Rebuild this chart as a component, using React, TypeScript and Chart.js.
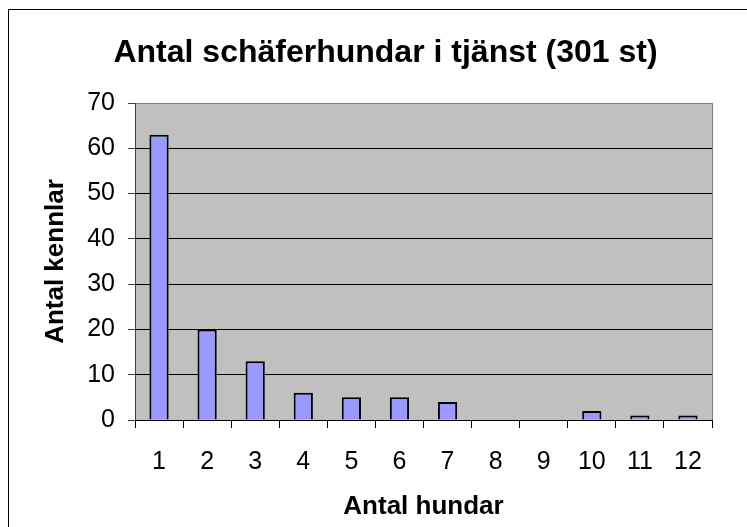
import React, { useEffect, useRef } from "react";
import { Chart, registerables } from "chart.js";

Chart.register(...registerables);

const categories = ["1", "2", "3", "4", "5", "6", "7", "8", "9", "10", "11", "12"];
const kennelCounts = [63, 20, 13, 6, 5, 5, 4, 0, 0, 2, 1, 1];
const chartTitle = "Antal schäferhundar i tjänst (301 st)";
const xTitle = "Antal hundar";
const yTitle = "Antal kennlar";
const yMin = 0;
const yMax = 70;
const yStep = 10;

const FONT = "Arial, 'Liberation Sans', sans-serif";

const decor = {
  id: "decor",
  beforeDraw(chart: any) {
    const { ctx, chartArea } = chart;
    ctx.save();
    ctx.fillStyle = "#ffffff";
    ctx.fillRect(0, 0, chart.width, chart.height);
    ctx.fillStyle = "#C0C0C0";
    ctx.fillRect(chartArea.left, chartArea.top, chartArea.right - chartArea.left, chartArea.bottom - chartArea.top);
    ctx.restore();
  },
  afterDraw(chart: any) {
    const { ctx, chartArea } = chart;
    ctx.save();
    ctx.strokeStyle = "#808080";
    ctx.lineWidth = 1;
    ctx.beginPath();
    ctx.moveTo(Math.round(chartArea.right) + 0.5, chartArea.top);
    ctx.lineTo(Math.round(chartArea.right) + 0.5, chartArea.bottom);
    ctx.stroke();
    ctx.strokeStyle = "#000000";
    ctx.strokeRect(8.5, 9.5, 900, 900);
    ctx.restore();
  },
};

export default function App() {
  const ref = useRef<HTMLCanvasElement | null>(null);
  useEffect(() => {
    if (!ref.current) return;
    const chart = new Chart(ref.current, {
      type: "bar",
      data: {
        labels: categories,
        datasets: [
          {
            data: kennelCounts,
            backgroundColor: "#9999FF",
            borderColor: "#000000",
            borderWidth: 2,
            barPercentage: 0.4,
            categoryPercentage: 1,
          },
        ],
      },
      options: {
        animation: false,
        responsive: false,
        devicePixelRatio: 1,
        layout: { padding: { left: 59, right: 35, top: 9, bottom: 0 } },
        plugins: {
          legend: { display: false },
          tooltip: { enabled: false },
          title: {
            display: true,
            text: chartTitle,
            color: "#000",
            font: { family: FONT, size: 32, weight: "bold" },
            padding: { top: 24.8, bottom: 30.8 },
          },
        },
        scales: {
          x: {
            afterFit: (s: any) => {
              s.height = 107;
            },
            grid: {
              offset: true,
              drawOnChartArea: false,
              drawTicks: true,
              tickLength: 8,
              color: "#000",
            },
            border: { display: true, color: "#000" },
            ticks: {
              color: "#000",
              padding: 19,
              font: { family: FONT, size: 25 },
              maxRotation: 0,
            },
            title: {
              display: true,
              text: xTitle,
              color: "#000",
              font: { family: FONT, size: 26, weight: "bold" },
              padding: { top: 0, bottom: 4.4 },
            },
          },
          y: {
            min: yMin,
            max: yMax,
            afterFit: (s: any) => {
              s.width = 76;
            },
            grid: {
              color: (c: any) => (c.tick && c.tick.value === yMax ? "#808080" : "#000"),
              tickColor: "#404040",
              drawTicks: true,
              tickLength: 7,
            },
            border: { display: true, color: "#404040" },
            ticks: {
              stepSize: yStep,
              color: "#000",
              padding: 13,
              font: { family: FONT, size: 25 },
            },
            title: {
              display: true,
              text: yTitle,
              color: "#000",
              font: { family: FONT, size: 26, weight: "bold" },
              padding: { top: -18.6, bottom: 0 },
            },
          },
        },
      },
      plugins: [decor],
    });
    return () => chart.destroy();
  }, []);
  return (
    <div style={{ position: "fixed", left: 0, top: 0, width: 747, height: 527, background: "#fff" }}>
      <canvas ref={ref} width={747} height={527} style={{ display: "block", width: 747, height: 527 }} />
    </div>
  );
}
